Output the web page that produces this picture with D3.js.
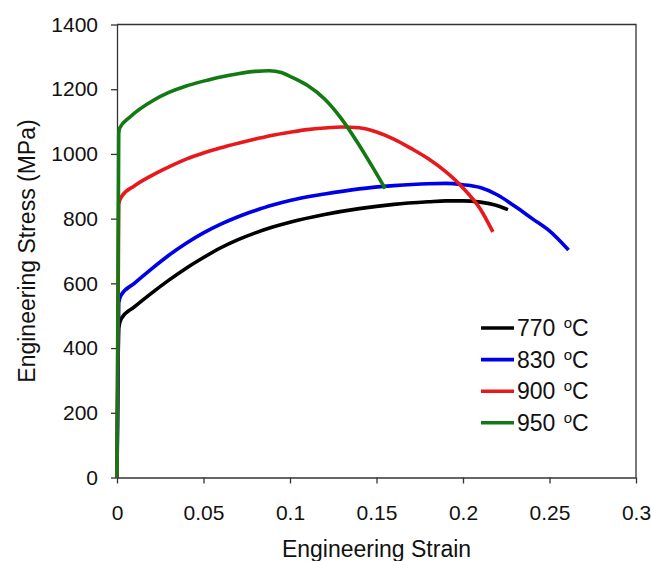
<!DOCTYPE html>
<html>
<head>
<meta charset="utf-8">
<script src="https://cdn.jsdelivr.net/npm/d3@7"></script>
<style>
  html, body { margin: 0; padding: 0; background: #fff; }
  svg { display: block; font-family: "Liberation Sans", Arial, sans-serif; }
</style>
</head>
<body>
<svg id="chart" width="651" height="561"></svg>
<script>
// ---- Data ----
const seriesNames = ["770", "830", "900", "950"];
const seriesColors = ["#000000", "#0000e6", "#e8191c", "#137a13"];

const strain770 = [0, 0.001, 0.0025, 0.01, 0.02, 0.03, 0.04, 0.05, 0.06, 0.07, 0.08, 0.09, 0.1, 0.12, 0.14, 0.16, 0.18, 0.19, 0.2, 0.21, 0.218, 0.226];
const stress770 = [0, 462, 491, 527, 570, 610, 647, 680, 710, 735, 756, 774, 789, 813, 831, 844, 852, 855, 855, 851, 843, 828];

const strain830 = [0, 0.001, 0.0023, 0.01, 0.02, 0.03, 0.04, 0.05, 0.06, 0.07, 0.08, 0.09, 0.1, 0.12, 0.14, 0.16, 0.18, 0.19, 0.2, 0.21, 0.22, 0.23, 0.24, 0.25, 0.261];
const stress830 = [0, 540, 563, 600, 645, 687, 724, 756, 783, 806, 825, 842, 856, 876, 892, 902, 908, 909, 905, 896, 873, 838, 800, 762, 703];

const strain900 = [0, 0.001, 0.0029, 0.01, 0.02, 0.03, 0.04, 0.05, 0.06, 0.07, 0.08, 0.09, 0.1, 0.11, 0.12, 0.13, 0.14, 0.15, 0.16, 0.17, 0.18, 0.19, 0.2, 0.21, 0.2173];
const stress900 = [0, 845, 870, 901, 933, 960, 984, 1003, 1019, 1033, 1046, 1058, 1067, 1075, 1080, 1083, 1081, 1068, 1046, 1017, 985, 945, 895, 830, 759];

const strain950 = [0, 0.001, 0.0015, 0.0077, 0.0211, 0.03, 0.04, 0.05, 0.06, 0.07, 0.08, 0.088, 0.095, 0.1, 0.11, 0.12, 0.13, 0.14, 0.148, 0.155];
const stress950 = [0, 1060, 1079, 1115, 1166, 1190, 1210, 1225, 1238, 1248, 1255, 1257, 1252, 1240, 1212, 1170, 1107, 1027, 957, 893];

const xTicks = [0, 0.05, 0.1, 0.15, 0.2, 0.25, 0.3];
const yTicks = [0, 200, 400, 600, 800, 1000, 1200, 1400];
const xLabel = "Engineering Strain";
const yLabel = "Engineering Stress (MPa)";

const series = [
  { name: seriesNames[0], color: seriesColors[0], x: strain770, y: stress770 },
  { name: seriesNames[1], color: seriesColors[1], x: strain830, y: stress830 },
  { name: seriesNames[2], color: seriesColors[2], x: strain900, y: stress900 },
  { name: seriesNames[3], color: seriesColors[3], x: strain950, y: stress950 }
];

// ---- Layout ----
const mLeft = 117, mRight = 636, mTop = 24.5, mBottom = 477.5;
const svg = d3.select("#chart");

const x = d3.scaleLinear().domain([0, 0.3]).range([mLeft, mRight]);
const y = d3.scaleLinear().domain([0, 1400]).range([mBottom, mTop]);

const axisColor = "#333";

// Frame (top and right)
svg.append("path")
  .attr("d", `M${mLeft},${mTop}H${mRight}V${mBottom}`)
  .attr("fill", "none").attr("stroke", axisColor).attr("stroke-width", 1.3);

// X axis
const gx = svg.append("g").attr("transform", `translate(0,${mBottom})`)
  .call(d3.axisBottom(x).tickValues(xTicks).tickFormat(d => String(+d.toFixed(2)))
    .tickSize(6).tickSizeOuter(0).tickPadding(21.5));
// Y axis
const gy = svg.append("g").attr("transform", `translate(${mLeft},0)`)
  .call(d3.axisLeft(y).tickValues(yTicks).tickFormat(d3.format("d"))
    .tickSize(6).tickSizeOuter(0).tickPadding(13));

[gx, gy].forEach(g => {
  g.select(".domain").attr("stroke", axisColor).attr("stroke-width", 1.3);
  g.selectAll(".tick line").attr("stroke", axisColor).attr("stroke-width", 1.3);
  g.selectAll(".tick text").attr("fill", "#111").style("font-size", "21px")
    .style("font-family", "'Liberation Sans', Arial, sans-serif");
});

// Lines
const line = d3.line().x(d => x(d[0])).y(d => y(d[1])).curve(d3.curveMonotoneX);
series.forEach(s => {
  const pts = s.x.map((v, i) => [v, s.y[i]]);
  svg.append("path").datum(pts)
    .attr("d", line)
    .attr("fill", "none")
    .attr("stroke", s.color)
    .attr("stroke-width", 3.6)
    .attr("stroke-linejoin", "round")
    .attr("stroke-linecap", "butt");
});

// Axis titles
svg.append("text").attr("x", (mLeft + mRight) / 2).attr("y", 557)
  .attr("text-anchor", "middle").style("font-size", "23px").attr("fill", "#111")
  .text(xLabel);
svg.append("text").attr("transform", `translate(35,${(mTop + mBottom) / 2}) rotate(-90)`)
  .attr("text-anchor", "middle").style("font-size", "23px").attr("fill", "#111")
  .text(yLabel);

// Legend
const legX0 = 481, legX1 = 514, legY0 = 328, legDy = 31.6;
series.forEach((s, i) => {
  const yy = legY0 + i * legDy;
  svg.append("line").attr("x1", legX0).attr("x2", legX1).attr("y1", yy).attr("y2", yy)
    .attr("stroke", s.color).attr("stroke-width", 3.6);
  const t = svg.append("text").attr("x", legX1 + 3).attr("y", yy + 8)
    .style("font-size", "23px").attr("fill", "#111");
  t.append("tspan").text(s.name + " ");
  t.append("tspan").attr("dy", -8).attr("dx", 2).style("font-size", "15px").text("o");
  t.append("tspan").attr("dy", 8).text("C");
});
</script>
</body>
</html>
